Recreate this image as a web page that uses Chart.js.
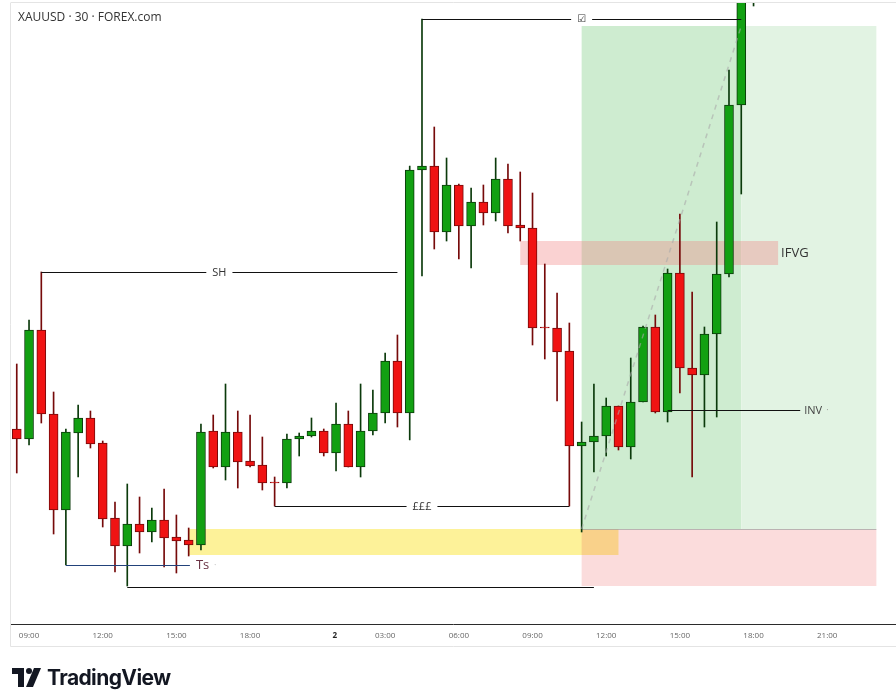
<!DOCTYPE html>
<html>
<head>
<meta charset="utf-8">
<title>XAUUSD 30</title>
<script src="https://cdn.jsdelivr.net/npm/chart.js@4.4.1/dist/chart.umd.min.js"></script>
<style>
  body { margin: 0; background: #fff; }
  .wrap { position: relative; width: 896px; height: 693px; overflow: hidden; }
  canvas { position: absolute; left: 0; top: 0; }
  .title { position: absolute; left: 18px; top: 8px; font: 12px "Open Sans", sans-serif; color: #333; }
  .logo { position: absolute; left: 12px; top: 665px; display: flex; align-items: center; }
  .logo span { font: 700 21px "Inter", sans-serif; letter-spacing: -0.6px; color: #131722; margin-left: 6px; }
</style>
</head>
<body>
<div class="wrap">
  <canvas id="chart" width="896" height="693"></canvas>
  <div class="title">XAUUSD · 30 · FOREX.com</div>
  <div class="logo">
    <svg width="29" height="19" viewBox="0 0 29 19">
      <rect x="0" y="0" width="12" height="6" fill="#131722"/>
      <rect x="6" y="0" width="6" height="19" fill="#131722"/>
      <circle cx="17" cy="3" r="3" fill="#131722"/>
      <polygon points="22,0 29,0 21,19 14,19" fill="#131722"/>
    </svg>
    <span>TradingView</span>
  </div>
</div>
<script>
// 30 min candles
const opens = [
    2657.1, 2656.1, 2667.0, 2658.6, 2649.0, 2656.7, 2658.2, 2655.7, 2648.2, 2645.4,
    2647.6, 2646.8, 2648.0, 2646.3, 2646.0, 2645.5, 2656.9, 2653.3, 2656.8, 2653.9,
    2653.5, 2651.7, 2651.7, 2656.1, 2656.4, 2656.9, 2654.7, 2657.6, 2653.3, 2656.9,
    2658.7, 2663.9, 2658.7, 2683.0, 2683.4, 2676.8, 2681.5, 2677.4, 2679.8, 2678.7,
    2682.1, 2677.5, 2677.2, 2667.2, 2667.2, 2664.9, 2655.4, 2655.8, 2656.4, 2659.4,
    2655.3, 2659.8, 2667.3, 2658.8, 2672.7, 2663.2, 2662.5, 2666.6, 2672.6, 2689.5,
    2702.0]
const highs = [
    2663.6, 2668.0, 2672.8, 2660.8, 2657.1, 2659.5, 2658.9, 2655.9, 2649.8, 2651.6,
    2650.3, 2649.2, 2651.1, 2648.5, 2647.2, 2657.6, 2658.5, 2661.6, 2658.9, 2658.5,
    2656.3, 2652.3, 2656.6, 2656.7, 2658.2, 2657.1, 2659.7, 2658.9, 2661.6, 2661.0,
    2664.7, 2666.5, 2683.4, 2698.1, 2687.3, 2684.2, 2681.6, 2681.2, 2681.5, 2684.2,
    2683.6, 2682.8, 2680.7, 2673.6, 2670.7, 2667.7, 2657.8, 2661.6, 2660.2, 2659.4,
    2664.2, 2667.4, 2668.5, 2673.1, 2678.6, 2670.8, 2667.3, 2677.8, 2693.0, 2703.0,
    2705.0]
const lows = [
    2652.7, 2655.5, 2657.7, 2646.6, 2643.5, 2652.3, 2655.2, 2647.3, 2642.8, 2641.4,
    2644.7, 2645.8, 2643.3, 2642.7, 2644.4, 2645.0, 2653.2, 2652.0, 2651.2, 2653.3,
    2651.0, 2649.4, 2651.2, 2654.4, 2656.3, 2654.4, 2652.9, 2653.3, 2652.3, 2656.5,
    2657.7, 2657.3, 2656.0, 2672.4, 2675.1, 2675.9, 2674.1, 2673.2, 2677.5, 2677.9,
    2676.7, 2675.9, 2665.5, 2664.1, 2659.9, 2649.4, 2646.8, 2652.8, 2654.4, 2655.0,
    2654.1, 2659.8, 2658.7, 2657.8, 2660.7, 2652.3, 2657.3, 2658.3, 2672.3, 2680.6,
    2699.4]
const closes = [
    2656.1, 2667.0, 2658.6, 2649.0, 2656.8, 2658.2, 2655.6, 2648.1, 2645.4, 2647.6,
    2646.8, 2648.0, 2646.2, 2645.9, 2645.5, 2656.8, 2653.3, 2656.8, 2653.8, 2653.4,
    2651.7, 2651.7, 2656.1, 2656.4, 2656.9, 2654.7, 2657.6, 2653.3, 2656.9, 2658.7,
    2663.9, 2658.7, 2683.0, 2683.4, 2676.8, 2681.5, 2677.4, 2679.8, 2678.7, 2682.1,
    2677.4, 2677.2, 2667.2, 2667.2, 2664.8, 2655.4, 2655.8, 2656.4, 2659.4, 2655.3,
    2659.8, 2667.3, 2658.8, 2672.7, 2663.2, 2662.5, 2666.6, 2672.6, 2689.5, 2701.0,
    2703.0]

// time axis: bar index of each label
const tickBars = [1, 7, 13, 19, 25.9, 30, 36, 42, 48, 54, 60, 66]
const tickLabels = ['09:00', '12:00', '15:00', '18:00', '2', '03:00', '06:00', '09:00', '12:00', '15:00', '18:00', '21:00']

// drawn levels
const shLevel = 2672.8
const tsLevel = 2643.5
const poundLevel = 2649.4
const lowLevel = 2641.35
const topLevel = 2698.1
const invLevel = 2659.0
const ifvgTop = 2675.9
const ifvgBottom = 2673.5
const yellowTop = 2647.1
const yellowBottom = 2644.5
const entry = 2647.1
const target = 2697.4
const stop = 2641.4

const up = closes.map((c, i) => c > opens[i])
const bodyColor = up.map(u => u ? '#12a012' : '#f01313')
const edgeColor = up.map(u => u ? '#0b3a0b' : '#760a0a')

const bodies = closes.map((c, i) => ({ x: i, y: [opens[i], c] }))
const wicks = closes.map((c, i) => ({ x: i, y: [lows[i], highs[i]] }))

const FONT = '"Open Sans", "Noto Sans", sans-serif'

const drawings = {
    id: 'drawings',
    beforeDatasetsDraw(chart) {
        const { ctx, chartArea: a, scales: { x, y } } = chart
        ctx.save()
        ctx.beginPath()
        ctx.rect(a.left, a.top, a.width, a.height)
        ctx.clip()
        const box = (i0, i1, p0, p1, color) => {
            const l = x.getPixelForValue(i0), r = x.getPixelForValue(i1)
            const t = y.getPixelForValue(p0), b = y.getPixelForValue(p1)
            ctx.fillStyle = color
            ctx.fillRect(l, t, r - l, b - t)
        }
        box(14, 49, yellowTop, yellowBottom, 'rgba(252, 236, 110, 0.7)')
        box(46, 70, entry, stop, 'rgba(235, 80, 80, 0.2)')
        box(46, 59, target, entry, 'rgb(206, 236, 208)')
        box(59, 70, target, entry, 'rgb(226, 243, 227)')
        box(41, 62, ifvgTop, ifvgBottom, 'rgba(241, 130, 130, 0.36)')
        // entry line
        ctx.strokeStyle = 'rgba(160,160,160,0.7)'
        ctx.lineWidth = 1
        const ey = Math.round(y.getPixelForValue(entry)) + 0.5
        ctx.beginPath()
        ctx.moveTo(x.getPixelForValue(46), ey)
        ctx.lineTo(x.getPixelForValue(70), ey)
        ctx.stroke()
        ctx.restore()
    },
    afterDatasetsDraw(chart) {
        const { ctx, chartArea: a, scales: { x, y } } = chart
        ctx.save()
        ctx.beginPath()
        ctx.rect(a.left, a.top, a.width, a.height)
        ctx.clip()

        const seg = (x0, y0, x1, y1) => {
            ctx.beginPath()
            ctx.moveTo(x0, y0)
            ctx.lineTo(x1, y1)
            ctx.stroke()
        }
        // horizontal line with the text sitting in a gap in the middle
        const level = (i0, i1, price, text, font) => {
            const l = x.getPixelForValue(i0), r = x.getPixelForValue(i1)
            const py = Math.round(y.getPixelForValue(price)) + 0.5
            ctx.strokeStyle = '#111'
            ctx.lineWidth = 1
            if (!text) { seg(l, py, r, py); return }
            ctx.font = font
            const w = ctx.measureText(text).width
            const mid = (l + r) / 2
            seg(l, py, mid - w / 2 - 6, py)
            seg(mid + w / 2 + 6, py, r, py)
            ctx.fillStyle = '#333'
            ctx.textAlign = 'center'
            ctx.textBaseline = 'middle'
            ctx.fillText(text, mid, py)
        }

        // projected path of the trade
        ctx.save()
        ctx.strokeStyle = 'rgba(170,170,170,0.6)'
        ctx.lineWidth = 1.5
        ctx.setLineDash([5, 5])
        seg(x.getPixelForValue(46), y.getPixelForValue(entry), x.getPixelForValue(59), y.getPixelForValue(target))
        ctx.restore()

        level(2, 31, shLevel, 'SH', '11px ' + FONT)
        level(21, 45, poundLevel, '£££', '11px ' + FONT)
        level(9, 47, lowLevel, null)
        level(33, 59, topLevel, '☑', '10px "DejaVu Sans", sans-serif')

        // Ts
        const tsY = Math.round(y.getPixelForValue(tsLevel)) + 0.5
        const tsEnd = x.getPixelForValue(14.1)
        ctx.strokeStyle = '#22427a'
        ctx.lineWidth = 1
        seg(x.getPixelForValue(4), tsY, tsEnd, tsY)
        ctx.font = '13px ' + FONT
        ctx.textAlign = 'left'
        ctx.textBaseline = 'middle'
        ctx.fillStyle = '#6b3344'
        ctx.fillText('Ts', tsEnd + 6, tsY)
        ctx.fillStyle = '#bbb'
        ctx.font = '9px ' + FONT
        ctx.fillText('·', tsEnd + 24, tsY)

        // INV
        const invY = Math.round(y.getPixelForValue(invLevel)) + 0.5
        const invEnd = x.getPixelForValue(63.8)
        ctx.strokeStyle = '#111'
        seg(x.getPixelForValue(53), invY, invEnd, invY)
        ctx.font = '11px ' + FONT
        ctx.fillStyle = '#444'
        ctx.fillText('INV', invEnd + 4, invY)
        ctx.fillStyle = '#999'
        ctx.font = '9px ' + FONT
        ctx.fillText('·', invEnd + 26, invY)

        // IFVG
        ctx.font = '13px ' + FONT
        ctx.fillStyle = '#333'
        ctx.fillText('IFVG', x.getPixelForValue(62) + 3, y.getPixelForValue((ifvgTop + ifvgBottom) / 2))

        ctx.restore()
    },
    afterDraw(chart) {
        const { ctx } = chart
        ctx.save()
        ctx.strokeStyle = '#e4e4e4'
        ctx.lineWidth = 1
        ctx.beginPath()
        ctx.moveTo(10.5, 3)
        ctx.lineTo(10.5, 646.5)
        ctx.lineTo(896, 646.5)
        ctx.moveTo(10.5, 2.5)
        ctx.lineTo(896, 2.5)
        ctx.stroke()
        ctx.restore()
    }
}

const whiteBg = {
    id: 'whiteBg',
    beforeDraw(chart) {
        const { ctx } = chart
        ctx.save()
        ctx.fillStyle = '#fff'
        ctx.fillRect(0, 0, chart.width, chart.height)
        ctx.restore()
    }
}

const config = {
    type: 'bar',
    data: {
        datasets: [
            {
                label: 'body',
                data: bodies,
                backgroundColor: bodyColor,
                borderColor: edgeColor,
                borderWidth: 1,
                borderSkipped: false,
                barThickness: 9,
                minBarLength: 1,
                grouped: false,
                order: 0
            },
            {
                label: 'wick',
                data: wicks,
                backgroundColor: edgeColor,
                borderWidth: 0,
                barThickness: 1,
                grouped: false,
                order: 1
            }
        ]
    },
    options: {
        responsive: false,
        animation: false,
        layout: {
            padding: { left: 10, top: 3, right: 0, bottom: 47 }
        },
        plugins: {
            legend: { display: false },
            tooltip: { enabled: false }
        },
        scales: {
            x: {
                type: 'linear',
                offset: false,
                min: -0.55,
                max: 71.6,
                grid: { display: false, drawTicks: false, offset: false },
                border: { display: true, color: '#2b2b2b', width: 1 },
                afterBuildTicks: (scale) => {
                    scale.ticks = tickBars.map(v => ({ value: v }))
                },
                afterFit: (scale) => {
                    scale.height = 22
                },
                ticks: {
                    autoSkip: false,
                    maxRotation: 0,
                    padding: 7,
                    color: (ctx) => ctx.index === 4 ? '#222' : '#666',
                    font: (ctx) => ({
                        family: FONT,
                        size: 8,
                        weight: ctx.index === 4 ? 'bold' : 'normal'
                    }),
                    callback: (value, index) => tickLabels[index]
                }
            },
            y: {
                display: false,
                min: 2637.6,
                max: 2699.7
            }
        }
    },
    plugins: [whiteBg, drawings]
}

const myChart = new Chart(document.getElementById('chart'), config)
</script>
</body>
</html>
